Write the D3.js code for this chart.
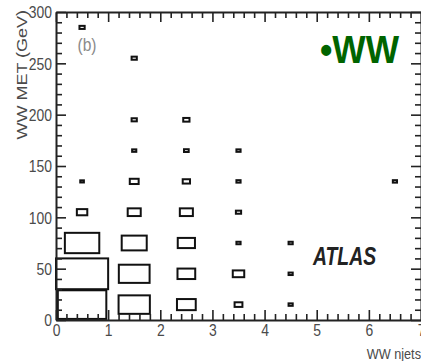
<!DOCTYPE html>
<html>
<head>
<meta charset="utf-8">
<script src="https://cdn.jsdelivr.net/npm/d3@7"></script>
<style>
  body { margin: 0; background: #fff; }
  svg { display: block; }
</style>
</head>
<body>
<script>
// Binning of the 2D histogram: njets (unit bins) vs missing ET (30 GeV bins)
const njetsEdges = [0, 1, 2, 3, 4, 5, 6, 7];
const metEdges = [0, 30, 60, 90, 120, 150, 180, 210, 240, 270, 300];
const xTickValues = [0, 1, 2, 3, 4, 5, 6, 7];
const yTickValues = [0, 50, 100, 150, 200, 250, 300];

// Filled cells: njets bin index, MET bin index, bin content (relative)
const cellNjets   = [0, 0, 0, 0, 0, 0,  1, 1, 1, 1, 1, 1, 1, 1,  2, 2, 2, 2, 2, 2, 2,  3, 3, 3, 3, 3, 3,  4, 4, 4,  6];
const cellMet     = [0, 1, 2, 3, 4, 9,  0, 1, 2, 3, 4, 5, 6, 8,  0, 1, 2, 3, 4, 5, 6,  0, 1, 2, 3, 4, 5,  0, 1, 2,  4];
const cellContent = [93, 100, 66, 20, 7, 10,  60, 59, 48, 25, 17, 8, 10, 10,  36, 34, 33, 25, 14, 9, 12,  15, 22, 8, 10, 8, 8,  8, 8, 8,  8];
const contentMax = 100;

const W = 421, H = 361;
const svg = d3.select("body").append("svg").attr("width", W).attr("height", H);

const x = d3.scaleLinear().domain([0, 7]).range([56, 421]);
const y = d3.scaleLinear().domain([0, 300]).range([320, 12]);
// box side as a fraction of the bin size
const side = d3.scaleLinear().domain([0, contentMax]).range([0, 1]);

const FONT = "'Liberation Sans', Arial, sans-serif";
const AXIS = "#222";
const TEXT = "#4a4a4a";
const SQ = 0.82; // horizontal squeeze of the text

// ---- boxes ----
const cells = cellContent.map((c, i) => ({
  i: cellNjets[i], j: cellMet[i], c
}));
svg.append("g").selectAll("rect").data(cells).join("rect")
  .attr("x", d => {
    const bw = x(njetsEdges[d.i + 1]) - x(njetsEdges[d.i]);
    return (x(njetsEdges[d.i]) + x(njetsEdges[d.i + 1])) / 2 - side(d.c) * bw / 2;
  })
  .attr("y", d => {
    const bh = y(metEdges[d.j]) - y(metEdges[d.j + 1]);
    return (y(metEdges[d.j]) + y(metEdges[d.j + 1])) / 2 - side(d.c) * bh / 2;
  })
  .attr("width", d => side(d.c) * (x(njetsEdges[d.i + 1]) - x(njetsEdges[d.i])))
  .attr("height", d => side(d.c) * (y(metEdges[d.j]) - y(metEdges[d.j + 1])))
  .attr("fill", "none")
  .attr("stroke", "#111")
  .attr("stroke-width", 2);

// ---- axes (ticks point into the frame on all four sides) ----
const xMinor = d3.range(0, 35).filter(k => k % 5 !== 0).map(k => k / 5);
const yMinor = d3.range(0, 31).filter(k => k % 5 !== 0).map(k => k * 10);

function styleAxis(g) {
  g.selectAll("path.domain").attr("stroke", AXIS).attr("stroke-width", 2);
  g.selectAll(".tick line").attr("stroke", AXIS).attr("stroke-width", 1.6);
}

// bottom
const gB = svg.append("g").attr("transform", `translate(0,${y(0)})`)
  .call(d3.axisBottom(x).tickValues(xTickValues).tickSize(-10).tickSizeOuter(0).tickPadding(4).tickFormat(d3.format("d")));
svg.append("g").attr("transform", `translate(0,${y(0)})`)
  .call(d3.axisBottom(x).tickValues(xMinor).tickSize(-6).tickSizeOuter(0).tickFormat(""))
  .call(g => g.select("path.domain").remove()).call(styleAxis);
// top
svg.append("g").attr("transform", `translate(0,${y(300)})`)
  .call(d3.axisTop(x).tickValues(xTickValues).tickSize(-10).tickSizeOuter(0).tickFormat("")).call(styleAxis);
svg.append("g").attr("transform", `translate(0,${y(300)})`)
  .call(d3.axisTop(x).tickValues(xMinor).tickSize(-6).tickSizeOuter(0).tickFormat(""))
  .call(g => g.select("path.domain").remove()).call(styleAxis);
// left
const gL = svg.append("g").attr("transform", `translate(${x(0)},0)`)
  .call(d3.axisLeft(y).tickValues(yTickValues).tickSize(-10).tickSizeOuter(0).tickPadding(4).tickFormat(d3.format("d")));
svg.append("g").attr("transform", `translate(${x(0)},0)`)
  .call(d3.axisLeft(y).tickValues(yMinor).tickSize(-6).tickSizeOuter(0).tickFormat(""))
  .call(g => g.select("path.domain").remove()).call(styleAxis);
// right
svg.append("g").attr("transform", `translate(${x(7)},0)`)
  .call(d3.axisRight(y).tickValues(yTickValues).tickSize(-10).tickSizeOuter(0).tickFormat("")).call(styleAxis);
svg.append("g").attr("transform", `translate(${x(7)},0)`)
  .call(d3.axisRight(y).tickValues(yMinor).tickSize(-6).tickSizeOuter(0).tickFormat(""))
  .call(g => g.select("path.domain").remove()).call(styleAxis);

[gB, gL].forEach(g => {
  styleAxis(g);
  g.selectAll(".tick text")
    .attr("font-family", FONT).attr("font-size", 17).attr("fill", TEXT)
    .attr("transform", `scale(${SQ},1)`);
});
gB.selectAll(".tick text").attr("y", 4).attr("dy", "0.71em");
gL.selectAll(".tick text").attr("x", -4 / SQ).attr("dy", "0.34em");

// ---- axis titles ----
svg.append("text")
  .attr("transform", `translate(27,10) scale(${SQ},1) rotate(-90)`)
  .attr("text-anchor", "end")
  .attr("font-family", FONT).attr("font-size", 18).attr("fill", TEXT)
  .text("WW MET (GeV)");

svg.append("text")
  .attr("transform", `translate(421,358.5) scale(${SQ},1)`)
  .attr("text-anchor", "end")
  .attr("font-family", FONT).attr("font-size", 15.5).attr("fill", TEXT)
  .text("WW njets");

// ---- labels inside the frame ----
svg.append("text")
  .attr("transform", `translate(87,51) scale(${SQ},1)`)
  .attr("text-anchor", "middle")
  .attr("font-family", FONT).attr("font-size", 19).attr("fill", "#8a8a8a")
  .text("(b)");

svg.append("text")
  .attr("transform", "translate(399,63) scale(0.93,1)")
  .attr("text-anchor", "end")
  .attr("font-family", FONT).attr("font-size", 38).attr("font-weight", "bold")
  .attr("fill", "#006400")
  .text("•WW");

svg.append("text")
  .attr("transform", "translate(313,265) scale(0.76,1)")
  .attr("text-anchor", "start")
  .attr("font-family", FONT).attr("font-size", 25.5)
  .attr("font-style", "italic").attr("font-weight", "bold")
  .attr("fill", "#222")
  .text("ATLAS");
</script>
</body>
</html>
